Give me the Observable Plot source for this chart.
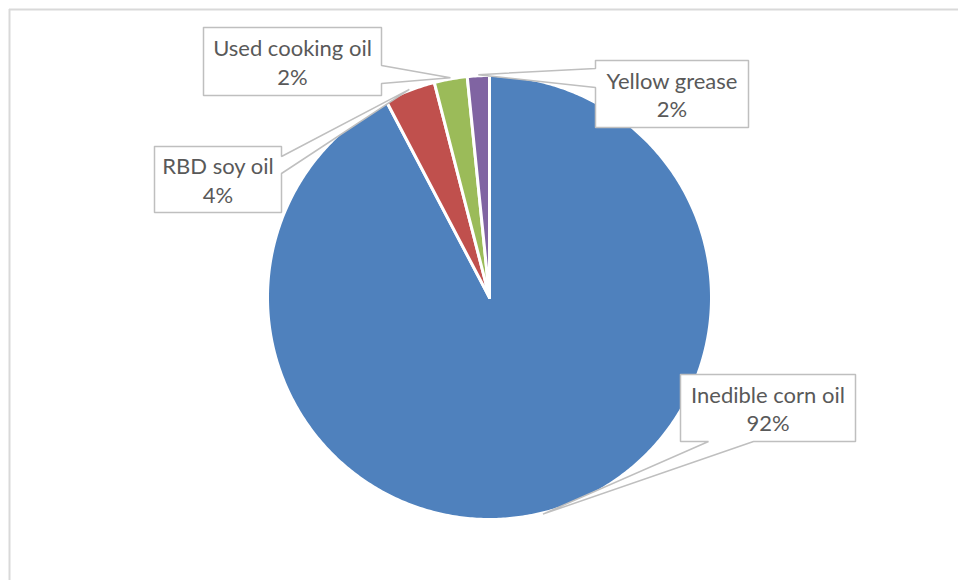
<!DOCTYPE html>
<html><head><meta charset="utf-8">
<script src="https://cdn.jsdelivr.net/npm/d3@7"></script>
<script src="https://cdn.jsdelivr.net/npm/@observablehq/plot@0.6"></script>
<style>html,body{margin:0;padding:0;background:#fff}#chart svg{display:block}</style>
</head><body><div id="chart"></div>
<script>
// ---- data ----
const categories = ["Inedible corn oil", "RBD soy oil", "Used cooking oil", "Yellow grease"];
const shares = [92.3, 3.7, 2.4, 1.6];
const colors = ["#4F81BD", "#C0504D", "#9BBB59", "#8064A2"];

// ---- layout (pixels) ----
const W = 958, H = 580, CX = 489, CY = 297, R = 222;
const callouts = {
  "Inedible corn oil": {box: [680, 374, 855, 441], side: "bottom", wedge: [708, 753]},
  "RBD soy oil":       {box: [154, 146, 281, 212], side: "right",  wedge: [156, 173]},
  "Used cooking oil":  {box: [203, 27, 381, 95],   side: "right",  wedge: [65, 83]},
  "Yellow grease":     {box: [595, 60, 748, 127],  side: "left",   wedge: [68, 87]}
};
const toU = px => (px - CX) / R, toV = py => (py - CY) / R;

const arcs = d3.pie().sort(null).value(d => d.share)(
  categories.map((c, i) => ({category: c, share: shares[i]}))
);

const slicePts = [];
arcs.forEach(p => {
  const c = p.data.category;
  const n = Math.max(4, Math.ceil((p.endAngle - p.startAngle) / 0.01));
  slicePts.push({category: c, u: 0, v: 0});
  for (let k = 0; k <= n; k++) {
    const a = p.startAngle + (p.endAngle - p.startAngle) * k / n;
    slicePts.push({category: c, u: Math.sin(a), v: -Math.cos(a)});
  }
  slicePts.push({category: c, u: 0, v: 0});
});

const calloutPts = [], calloutText = [];
arcs.forEach(p => {
  const c = p.data.category, L = callouts[c];
  const mid = (p.startAngle + p.endAngle) / 2;
  const tip = [Math.sin(mid) * 1.005, -Math.cos(mid) * 1.005];
  const [x0, y0, x1, y1] = L.box.map((d, i) => i % 2 ? toV(d) : toU(d));
  const pts = [[x0, y0], [x1, y0]];
  if (L.side === "right") pts.push([x1, toV(L.wedge[0])], tip, [x1, toV(L.wedge[1])]);
  pts.push([x1, y1]);
  if (L.side === "bottom") pts.push([toU(L.wedge[1]), y1], tip, [toU(L.wedge[0]), y1]);
  pts.push([x0, y1]);
  if (L.side === "left") pts.push([x0, toV(L.wedge[1])], tip, [x0, toV(L.wedge[0])]);
  pts.push([x0, y0]);
  pts.forEach(([u, v]) => calloutPts.push({category: c, u, v}));
  calloutText.push({category: c, u: (x0 + x1) / 2, v: (y0 + y1) / 2,
    text: c + "\n" + Math.round(p.data.share) + "%"});
});

const chart = Plot.plot({
  width: W, height: H,
  marginLeft: 9, marginTop: 9, marginRight: 0, marginBottom: 0,
  x: {domain: [toU(9), toU(W)], axis: null},
  y: {domain: [toV(9), toV(H)], reverse: true, axis: null},
  color: {domain: categories, range: colors},
  marks: [
    Plot.ruleX([toU(9)], {stroke: "#d9d9d9", strokeWidth: 2}),
    Plot.ruleY([toV(9)], {stroke: "#d9d9d9", strokeWidth: 2}),
    Plot.line(slicePts, {x: "u", y: "v", z: "category", fill: "category",
      stroke: "white", strokeWidth: 3, strokeLinejoin: "round", curve: "linear"}),
    Plot.line(calloutPts, {x: "u", y: "v", z: "category", fill: "white",
      stroke: "#bfbfbf", strokeWidth: 1.5, strokeLinejoin: "miter", curve: "linear"}),
    Plot.text(calloutText, {x: "u", y: "v", text: "text", fill: "#595959",
      fontSize: 22, fontFamily: "Lato", lineHeight: 1.3})
  ]
});
document.getElementById("chart").appendChild(chart);
</script>
</body></html>
